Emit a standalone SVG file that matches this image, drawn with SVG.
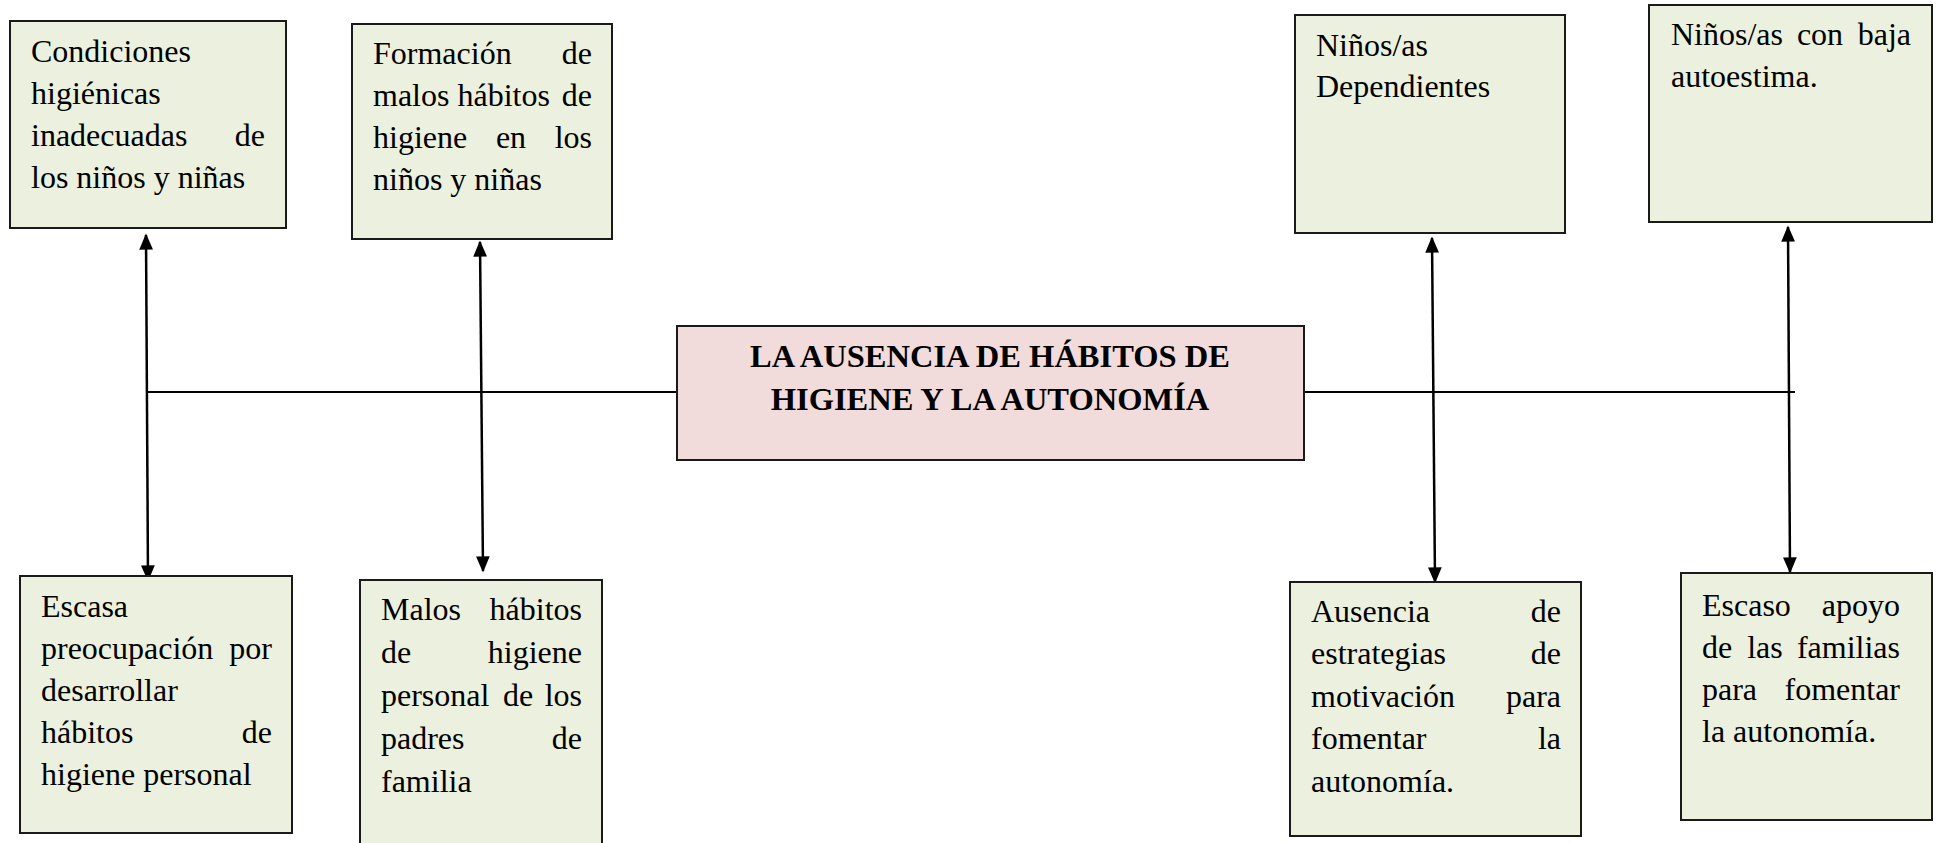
<svg xmlns="http://www.w3.org/2000/svg" width="1941" height="843" viewBox="0 0 1941 843">
<style>
.box{fill:#EBF1DE;stroke:#1a1a1a;stroke-width:2}
.main{fill:#F2DCDB;stroke:#1a1a1a;stroke-width:2}
.t{font-family:"Liberation Serif","Times New Roman",serif;font-size:32px;fill:#000}
.e{text-anchor:end}
.m{text-anchor:middle}
.b{font-family:"Liberation Serif","Times New Roman",serif;font-size:32.5px;font-weight:bold;fill:#000;text-anchor:middle}
.ln{stroke:#000;stroke-width:2;fill:none}
.ar{stroke:#000;stroke-width:2.5;fill:none;marker-start:url(#ah);marker-end:url(#ah)}
</style>
<defs>
<marker id="ah" viewBox="0 0 10 10" refX="9" refY="5" markerWidth="6.5" markerHeight="5.5" orient="auto-start-reverse" markerUnits="strokeWidth" preserveAspectRatio="none">
<path d="M0,0 L10,5 L0,10 z" fill="#000"/>
</marker>
</defs>
<g id="connectors">
<line class="ln" x1="146" y1="392" x2="676" y2="392"/>
<line class="ln" x1="1304" y1="392" x2="1795" y2="392"/>
<line class="ar" x1="146" y1="235" x2="148" y2="580"/>
<line class="ar" x1="480" y1="242" x2="483" y2="571"/>
<line class="ar" x1="1432" y1="238" x2="1435" y2="582"/>
<line class="ar" x1="1788" y1="227" x2="1790" y2="572"/>
</g>
<g id="center">
<rect class="main" x="677" y="326" width="627" height="134"/>
<text class="b" x="990" y="367">LA AUSENCIA DE HÁBITOS DE</text>
<text class="b" x="990" y="410">HIGIENE Y LA AUTONOMÍA</text>
</g>
<g id="n1">
<rect class="box" x="10" y="21" width="276" height="207"/>
<text class="t" x="31" y="62">Condiciones</text>
<text class="t" x="31" y="104">higiénicas</text>
<text class="t" x="31" y="146">inadecuadas</text><text class="t e" x="265" y="146">de</text>
<text class="t" x="31" y="188">los niños y niñas</text>
</g>
<g id="n2">
<rect class="box" x="352" y="24" width="260" height="215"/>
<text class="t" x="373" y="64">Formación</text><text class="t e" x="592" y="64">de</text>
<text class="t" x="373" y="106">malos hábitos</text><text class="t e" x="592" y="106">de</text>
<text class="t" x="373" y="148">higiene</text><text class="t m" x="511" y="148">en</text><text class="t e" x="592" y="148">los</text>
<text class="t" x="373" y="190">niños y niñas</text>
</g>
<g id="n3">
<rect class="box" x="1295" y="15" width="270" height="218"/>
<text class="t" x="1316" y="56">Niños/as</text>
<text class="t" x="1316" y="97">Dependientes</text>
</g>
<g id="n4">
<rect class="box" x="1649" y="5" width="283" height="217"/>
<text class="t" x="1671" y="45">Niños/as</text><text class="t m" x="1820" y="45">con</text><text class="t e" x="1911" y="45">baja</text>
<text class="t" x="1671" y="87">autoestima.</text>
</g>
<g id="n5">
<rect class="box" x="20" y="576" width="272" height="257"/>
<text class="t" x="41" y="617">Escasa</text>
<text class="t" x="41" y="659">preocupación</text><text class="t e" x="272" y="659">por</text>
<text class="t" x="41" y="701">desarrollar</text>
<text class="t" x="41" y="743">hábitos</text><text class="t e" x="272" y="743">de</text>
<text class="t" x="41" y="785">higiene personal</text>
</g>
<g id="n6">
<rect class="box" x="360" y="580" width="242" height="268"/>
<text class="t" x="381" y="620">Malos</text><text class="t e" x="582" y="620">hábitos</text>
<text class="t" x="381" y="663">de</text><text class="t e" x="582" y="663">higiene</text>
<text class="t" x="381" y="706">personal</text><text class="t m" x="518" y="706">de</text><text class="t e" x="582" y="706">los</text>
<text class="t" x="381" y="749">padres</text><text class="t e" x="582" y="749">de</text>
<text class="t" x="381" y="792">familia</text>
</g>
<g id="n7">
<rect class="box" x="1290" y="582" width="291" height="254"/>
<text class="t" x="1311" y="622">Ausencia</text><text class="t e" x="1561" y="622">de</text>
<text class="t" x="1311" y="664">estrategias</text><text class="t e" x="1561" y="664">de</text>
<text class="t" x="1311" y="707">motivación</text><text class="t e" x="1561" y="707">para</text>
<text class="t" x="1311" y="749">fomentar</text><text class="t e" x="1561" y="749">la</text>
<text class="t" x="1311" y="792">autonomía.</text>
</g>
<g id="n8">
<rect class="box" x="1681" y="573" width="251" height="247"/>
<text class="t" x="1702" y="616">Escaso</text><text class="t e" x="1900" y="616">apoyo</text>
<text class="t" x="1702" y="658">de</text><text class="t m" x="1765" y="658">las</text><text class="t e" x="1900" y="658">familias</text>
<text class="t" x="1702" y="700">para</text><text class="t e" x="1900" y="700">fomentar</text>
<text class="t" x="1702" y="742">la autonomía.</text>
</g>
</svg>
